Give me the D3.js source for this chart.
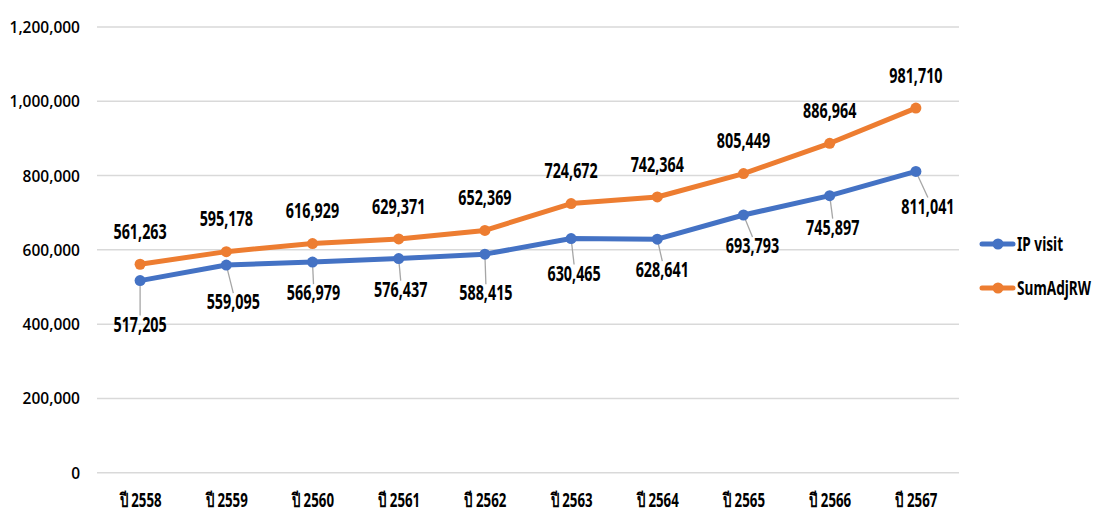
<!DOCTYPE html>
<html><head><meta charset="utf-8">
<script src="https://cdn.jsdelivr.net/npm/d3@7"></script>
<style>
html,body{margin:0;padding:0;background:#fff;}
svg{display:block;}
</style></head>
<body>
<svg id="chart" width="1094" height="513"></svg>
<script>
const categories = ["ปี 2558","ปี 2559","ปี 2560","ปี 2561","ปี 2562","ปี 2563","ปี 2564","ปี 2565","ปี 2566","ปี 2567"];
const ipVisit = [517205,559095,566979,576437,588415,630465,628641,693793,745897,811041];
const sumAdjRW = [561263,595178,616929,629371,652369,724672,742364,805449,886964,981710];
const yTicks = [0,200000,400000,600000,800000,1000000,1200000];
const seriesNames = ["IP visit","SumAdjRW"];

// label layout (offsets of blue labels relative to their points)
const ipLabelShift = [[0,44],[7,37],[1,31],[2,31],[1,39],[3,35],[5,31],[9,31],[3,32],[12,35]];

const svg = d3.select("#chart");
const mLeft = 97, mRight = 959, mTop = 27, mBottom = 472.7;
const colors = ["#4472C4","#ED7D31"];
const labelFont = "'Noto Sans',sans-serif";
const squeeze = 0.7;

const x = d3.scalePoint().domain(categories).range([mLeft, mRight]).padding(0.5);
const y = d3.scaleLinear().domain([0,1200000]).range([mBottom, mTop]);

// gridlines
svg.append("g").selectAll("line").data(yTicks).join("line")
  .attr("x1", mLeft).attr("x2", mRight)
  .attr("y1", d=>y(d)).attr("y2", d=>y(d))
  .attr("stroke", "#d9d9d9").attr("stroke-width", 1.5);

// y axis labels
const yAxis = d3.axisLeft(y).tickValues(yTicks).tickSize(0).tickPadding(0)
  .tickFormat(d3.format(","));
const gy = svg.append("g").attr("transform", `translate(80,0)`).call(yAxis);
gy.select(".domain").remove();
gy.selectAll("text").attr("font-family","'Open Sans',sans-serif").attr("font-weight",600)
  .attr("font-size",15.5).attr("fill","#000").attr("dy","0.35em");

// x axis labels
const xAxis = d3.axisBottom(x).tickSize(0).tickPadding(0);
const gx = svg.append("g").attr("transform", `translate(0,${mBottom})`).call(xAxis);
gx.select(".domain").remove();
gx.selectAll("text").attr("font-family",labelFont).attr("font-weight","bold")
  .attr("font-size",19).attr("fill","#000").attr("y",28).attr("dy","0.35em")
  .attr("transform",`scale(${squeeze},1)`);

const line = d3.line().x((d,i)=>x(categories[i])).y(d=>y(d));
const series = [ipVisit, sumAdjRW];

// leader lines for IP visit labels
svg.append("g").selectAll("line").data(ipVisit).join("line")
  .each(function(d,i){
    const px = x(categories[i]), py = y(d);
    const [dx,dy] = ipLabelShift[i];
    const tx = px+dx, ty = py+dy - 9;
    const len = Math.hypot(tx-px, ty-py);
    const ux = (tx-px)/len, uy = (ty-py)/len;
    d3.select(this).attr("x1", px+ux*3).attr("y1", py+uy*3)
      .attr("x2", tx).attr("y2", ty);
  })
  .attr("stroke","#a6a6a6").attr("stroke-width",1.3);

series.forEach((s,k)=>{
  svg.append("path").datum(s).attr("d", line)
    .attr("fill","none").attr("stroke", colors[k]).attr("stroke-width",5)
    .attr("stroke-linejoin","round").attr("stroke-linecap","round");
  svg.append("g").selectAll("circle").data(s).join("circle")
    .attr("cx",(d,i)=>x(categories[i])).attr("cy",d=>y(d)).attr("r",5.5)
    .attr("fill",colors[k]);
});

const fmt = d3.format(",");
function addLabels(data, posFn){
  const g = svg.append("g").selectAll("g").data(data).join("g")
    .attr("transform",(d,i)=>{const [px,py]=posFn(d,i); return `translate(${px},${py})`;});
  g.append("text").attr("transform",`scale(${squeeze},1)`)
    .attr("dy","0.35em").attr("text-anchor","middle")
    .attr("font-family",labelFont).attr("font-weight","bold").attr("font-size",20.5)
    .attr("fill","#000").text(d=>fmt(d));
}
addLabels(sumAdjRW, (d,i)=>[x(categories[i]), y(d)-32.5]);
addLabels(ipVisit, (d,i)=>[x(categories[i])+ipLabelShift[i][0], y(d)+ipLabelShift[i][1]]);

// legend
const lg = svg.append("g");
seriesNames.forEach((n,k)=>{
  const ly = 244 + k*44;
  lg.append("line").attr("x1",982).attr("x2",1013).attr("y1",ly).attr("y2",ly)
    .attr("stroke",colors[k]).attr("stroke-width",5).attr("stroke-linecap","round");
  lg.append("circle").attr("cx",998).attr("cy",ly).attr("r",5.5).attr("fill",colors[k]);
  lg.append("g").attr("transform",`translate(1017,${ly})`)
    .append("text").attr("transform",`scale(${squeeze},1)`).attr("dy","0.35em")
    .attr("font-family",labelFont).attr("font-weight","bold").attr("font-size",19.5)
    .attr("fill","#000").text(n);
});
</script>
</body></html>
